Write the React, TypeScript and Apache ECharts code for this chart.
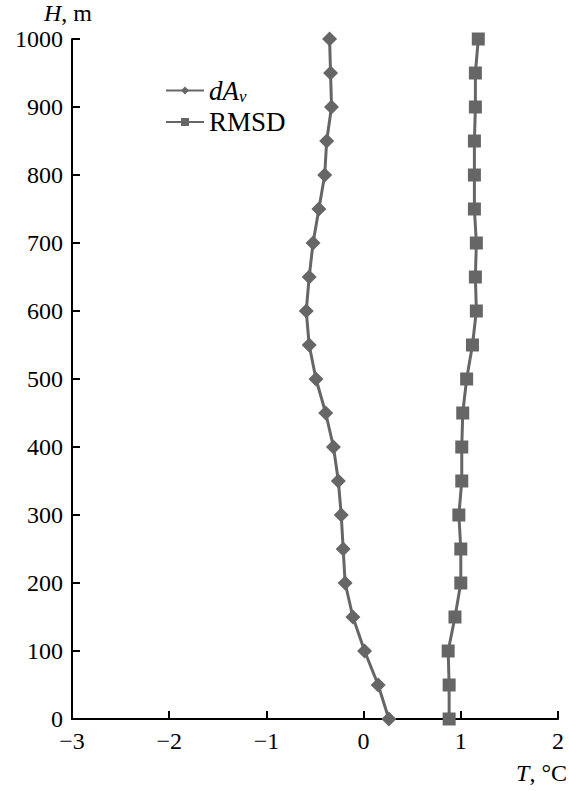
import React, { useEffect, useRef } from "react";
import * as echarts from "echarts";

const heights = [0, 50, 100, 150, 200, 250, 300, 350, 400, 450, 500, 550, 600, 650, 700, 750, 800, 850, 900, 950, 1000];
const dAv = [0.26, 0.15, 0.01, -0.11, -0.19, -0.21, -0.23, -0.26, -0.31, -0.39, -0.49, -0.56, -0.59, -0.56, -0.52, -0.46, -0.4, -0.38, -0.33, -0.34, -0.35];
const rmsd = [0.88, 0.88, 0.87, 0.94, 1.0, 1.0, 0.98, 1.01, 1.01, 1.02, 1.06, 1.12, 1.16, 1.15, 1.16, 1.14, 1.14, 1.14, 1.15, 1.15, 1.18];
const xTicks = [-3, -2, -1, 0, 1, 2];
const seriesNames = ["dA_v", "RMSD"];

const FONT = "'Liberation Serif', 'Times New Roman', serif";
const GREY = "#666666";
const FS = 24;
const LFS = 27;

export default function App() {
  const ref = useRef<HTMLDivElement>(null);
  useEffect(() => {
    if (!ref.current) return;
    const chart = echarts.init(ref.current, null, { renderer: "svg" });
    const mk = (vals: number[]) => vals.map((v, i) => [v, heights[i]]);
    chart.setOption({
      animation: false,
      grid: { left: 72, right: 11, top: 39, bottom: 72, containLabel: false },
      legend: {
        orient: "vertical",
        left: 165,
        top: 77,
        itemWidth: 38,
        itemHeight: 10,
        itemGap: 4,
        padding: 0,
        data: seriesNames,
        textStyle: {
          fontFamily: FONT,
          fontSize: LFS,
          color: "#000",
          padding: [0, 0, 0, 0],
          rich: {
            i: { fontFamily: FONT, fontSize: LFS, fontStyle: "italic", color: "#000" },
            sub: { fontFamily: FONT, fontSize: 17, fontStyle: "italic", color: "#000", verticalAlign: "bottom", padding: [11, 0, 0, 0] },
            n: { fontFamily: FONT, fontSize: LFS, color: "#000" },
          },
        },
        formatter: (name: string) => (name === "dA_v" ? "{i|dA}{sub|v}" : "{n|" + name + "}"),
      },
      xAxis: {
        type: "value",
        min: -3,
        max: 2,
        interval: 1,
        axisLine: { show: true, onZero: false, lineStyle: { color: "#000", width: 2 } },
        axisTick: { show: true, inside: true, length: 8, lineStyle: { color: "#000", width: 2 } },
        splitLine: { show: false },
        axisLabel: {
          fontFamily: FONT,
          fontSize: FS,
          color: "#000",
          margin: 10,
          formatter: (v: number) => (xTicks.includes(v) ? (v < 0 ? "\u2212" + Math.abs(v) : String(v)) : ""),
        },
      },
      yAxis: {
        type: "value",
        min: 0,
        max: 1000,
        interval: 100,
        axisLine: { show: true, onZero: false, lineStyle: { color: "#000", width: 2 } },
        axisTick: { show: true, inside: true, length: 8, lineStyle: { color: "#000", width: 2 } },
        splitLine: { show: false },
        axisLabel: { fontFamily: FONT, fontSize: FS, color: "#000", margin: 9, formatter: (v: number) => String(v) },
      },
      graphic: [
        {
          type: "text",
          left: 44,
          top: 1,
          style: {
            text: "{i|H}{n|, m}",
            rich: {
              i: { fontFamily: FONT, fontSize: FS, fontStyle: "italic", fill: "#000", lineHeight: 24 },
              n: { fontFamily: FONT, fontSize: FS, fill: "#000", lineHeight: 24 },
            },
          },
        },
        {
          type: "text",
          right: 2,
          top: 761,
          style: {
            text: "{i|T}{n|, °C}",
            rich: {
              i: { fontFamily: FONT, fontSize: FS, fontStyle: "italic", fill: "#000" },
              n: { fontFamily: FONT, fontSize: FS, fill: "#000" },
            },
          },
        },
      ],
      series: [
        {
          name: "dA_v",
          type: "line",
          data: mk(dAv),
          symbol: "diamond",
          symbolSize: 15,
          lineStyle: { color: GREY, width: 3 },
          itemStyle: { color: GREY },
          clip: false,
        },
        {
          name: "RMSD",
          type: "line",
          data: mk(rmsd),
          symbol: "rect",
          symbolSize: 13,
          lineStyle: { color: GREY, width: 3 },
          itemStyle: { color: GREY },
          clip: false,
        },
      ],
    });
    return () => chart.dispose();
  }, []);
  return <div ref={ref} style={{ width: 569, height: 791, position: "absolute", left: 0, top: 0, background: "#fff" }} />;
}
